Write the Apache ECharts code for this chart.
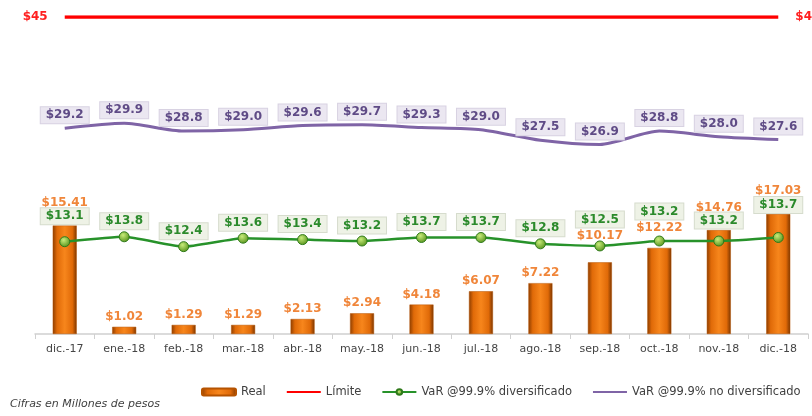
<!DOCTYPE html>
<html>
<head>
<meta charset="utf-8">
<script src="https://cdn.jsdelivr.net/npm/echarts@6/dist/echarts.min.js"></script>
<style>
  html, body { margin: 0; padding: 0; background: #fff; }
  #chart { width: 812px; height: 416px; }
</style>
</head>
<body>
<div id="chart"></div>
<script>
// datos del gráfico
const categories = ["dic.-17", "ene.-18", "feb.-18", "mar.-18", "abr.-18", "may.-18", "jun.-18",
  "jul.-18", "ago.-18", "sep.-18", "oct.-18", "nov.-18", "dic.-18"];
const realValues = [15.41, 1.02, 1.29, 1.29, 2.13, 2.94, 4.18, 6.07, 7.22, 10.17, 12.22, 14.76, 17.03];
const limiteValues = [45, 45, 45, 45, 45, 45, 45, 45, 45, 45, 45, 45, 45];
const varDiversificado = [13.1, 13.8, 12.4, 13.6, 13.4, 13.2, 13.7, 13.7, 12.8, 12.5, 13.2, 13.2, 13.7];
const varNoDiversificado = [29.2, 29.9, 28.8, 29.0, 29.6, 29.7, 29.3, 29.0, 27.5, 26.9, 28.8, 28.0, 27.6];

// separación extra de etiquetas donde se enciman
const barLabelGap = { 0: 17, 9: 20, 10: 14, 11: 16, 12: 17 };
const varLabelGap = { 0: 12, 9: 13, 10: 16, 11: 7, 12: 19 };

const chart = echarts.init(document.getElementById("chart"));
const font = "DejaVu Sans";
const last = categories.length - 1;

const barColor = {
  type: "linear", x: 0, y: 0, x2: 1, y2: 0,
  colorStops: [
    { offset: 0, color: "#8c3d00" },
    { offset: 0.18, color: "#e06a08" },
    { offset: 0.5, color: "#f7861c" },
    { offset: 0.82, color: "#e06a08" },
    { offset: 1, color: "#7a3500" },
  ],
};

const option = {
  animation: false,
  textStyle: { fontFamily: font },
  grid: { left: 35, right: 4, top: 17, bottom: 82 },
  legend: {
    left: 196,
    top: 381,
    itemGap: 20,
    itemWidth: 34,
    itemHeight: 7,
    textStyle: { fontSize: 11.5, color: "#404040", fontFamily: font },
    data: ["Real", "Límite", "VaR @99.9% diversificado", "VaR @99.9% no diversificado"],
  },
  graphic: [
    {
      type: "text",
      left: 10,
      top: 399,
      style: {
        text: "Cifras en Millones de pesos",
        font: "italic 11px " + font,
        fill: "#404040",
      },
    },
  ],
  xAxis: {
    type: "category",
    data: categories,
    axisLine: { lineStyle: { color: "#d0d0d0", width: 1.5 } },
    axisTick: { show: true, length: 5, lineStyle: { color: "#d0d0d0" } },
    axisLabel: { color: "#454545", fontSize: 11, margin: 10, interval: 0 },
  },
  yAxis: {
    type: "value",
    min: 0,
    max: 45,
    show: false,
    splitLine: { show: false },
  },
  series: [
    {
      name: "Real",
      type: "bar",
      barWidth: 24,
      data: realValues.map((v, i) => ({
        value: v,
        label: { distance: barLabelGap[i] || 4 },
      })),
      itemStyle: { color: barColor, borderColor: "#b55300", borderWidth: 0.5 },
      label: {
        show: true,
        position: "top",
        color: "#f0863a",
        fontWeight: "bold",
        fontSize: 12,
        formatter: (p) => "$" + p.value.toFixed(2),
      },
      z: 2,
    },
    {
      name: "Límite",
      type: "line",
      data: limiteValues.map((v, i) => ({
        value: v,
        label: {
          show: i === 0 || i === last,
          position: i === 0 ? "left" : "right",
        },
      })),
      symbol: "circle",
      symbolSize: 0.1,
      itemStyle: { color: "#ff0000", opacity: 0 },
      lineStyle: { color: "#ff0000", width: 3.5 },
      label: {
        distance: 17,
        color: "#ff2020",
        fontWeight: "bold",
        fontSize: 12,
        opacity: 1,
        formatter: (p) => "$" + p.value,
      },
      z: 3,
    },
    {
      name: "VaR @99.9% diversificado",
      type: "line",
      smooth: 0.15,
      data: varDiversificado.map((v, i) => ({
        value: v,
        label: { distance: varLabelGap[i] || 2 },
      })),
      symbol: "circle",
      symbolSize: 10,
      itemStyle: {
        color: {
          type: "radial", x: 0.4, y: 0.35, r: 0.7,
          colorStops: [
            { offset: 0, color: "#c8ec7a" },
            { offset: 1, color: "#4f8d16" },
          ],
        },
        borderColor: "#2f7a1a",
        borderWidth: 1,
      },
      lineStyle: { color: "#27922a", width: 2.5 },
      label: {
        show: true,
        position: "top",
        color: "#2b8a2b",
        fontWeight: "bold",
        fontSize: 12,
        backgroundColor: "#eef2e6",
        borderColor: "#d6dccd",
        borderWidth: 1,
        padding: [2, 5, 2, 5],
        formatter: (p) => "$" + p.value.toFixed(1),
      },
      z: 5,
    },
    {
      name: "VaR @99.9% no diversificado",
      type: "line",
      smooth: 0.25,
      data: varNoDiversificado,
      symbol: "circle",
      symbolSize: 0.1,
      itemStyle: { color: "#7f64a6", opacity: 0 },
      lineStyle: { color: "#7f64a6", width: 3 },
      label: {
        show: true,
        position: "top",
        distance: 5,
        opacity: 1,
        color: "#5f4b86",
        fontWeight: "bold",
        fontSize: 12,
        backgroundColor: "#ebe7f1",
        borderColor: "#d8d2e2",
        borderWidth: 1,
        padding: [2, 5, 2, 5],
        formatter: (p) => "$" + p.value.toFixed(1),
      },
      z: 4,
    },
  ],
};

chart.setOption(option);
</script>
</body>
</html>
